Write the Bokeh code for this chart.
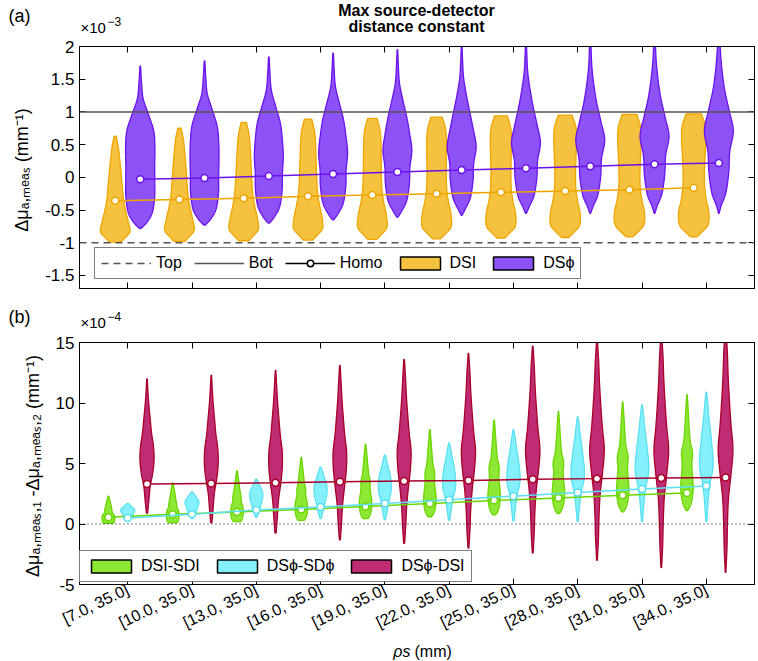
import numpy as np
from bokeh.plotting import figure
from bokeh.models import Span, Legend, LegendItem, LinearAxis, FixedTicker, Range1d
from bokeh.core.properties import value
from bokeh.layouts import column
from bokeh.embed import file_html
from bokeh.resources import INLINE

FONT = "Liberation Sans"

# ---------------- data ----------------
rho_labels = ["[7.0, 35.0]", "[10.0, 35.0]", "[13.0, 35.0]", "[16.0, 35.0]", "[19.0, 35.0]",
              "[22.0, 35.0]", "[25.0, 35.0]", "[28.0, 35.0]", "[31.0, 35.0]", "[34.0, 35.0]"]

# panel (a), units of 1e-3 mm^-1
dsi_min = [-0.99, -0.98, -0.97, -0.96, -0.95, -0.94, -0.93, -0.92, -0.91, -0.91]
dsi_max = [0.63, 0.75, 0.84, 0.89, 0.90, 0.92, 0.94, 0.95, 0.96, 0.97]
dsi_homo = [-0.36, -0.34, -0.32, -0.29, -0.27, -0.25, -0.23, -0.21, -0.19, -0.16]
dsp_min = [-0.78, -0.73, -0.70, -0.65, -0.61, -0.58, -0.55, -0.55, -0.55, -0.55]
dsp_max = [1.70, 1.78, 1.84, 1.90, 1.95, 2.05, 2.15, 2.25, 2.4, 2.6]
dsp_homo = [-0.03, -0.01, 0.02, 0.05, 0.08, 0.11, 0.14, 0.17, 0.20, 0.22]
top_bound = -1.0
bot_bound = 1.0
ya_ticks = [-1.5, -1, -0.5, 0, 0.5, 1, 1.5, 2]

# panel (b), units of 1e-4 mm^-1
sdi_min = [0.05, 0.1, 0.2, 0.3, 0.45, 0.6, 0.75, 0.85, 1.0, 1.1]
sdi_max = [2.3, 3.4, 4.4, 5.5, 6.6, 7.8, 8.6, 9.3, 10.1, 10.7]
sdi_homo = [0.55, 0.8, 1.0, 1.2, 1.45, 1.7, 1.95, 2.15, 2.38, 2.57]
sdp_min = [0.2, 0.45, 0.55, 0.45, 0.35, 0.3, 0.25, 0.2, 0.2, 0.2]
sdp_max = [1.7, 2.65, 3.7, 4.7, 5.7, 6.7, 7.8, 8.85, 9.85, 10.9]
sdp_homo = [0.5, 0.8, 1.15, 1.4, 1.7, 2.0, 2.3, 2.6, 2.9, 3.15]
dd_min = [0.9, 0.1, -0.75, -1.3, -1.6, -2.0, -2.4, -3.0, -3.6, -4.0]
dd_max = [12.0, 12.3, 12.7, 13.1, 13.6, 14.1, 14.7, 15.3, 15.8, 16.3]
dd_homo = [3.3, 3.35, 3.4, 3.5, 3.55, 3.6, 3.7, 3.75, 3.8, 3.85]
yb_ticks = [-5, 0, 5, 10, 15]

# violin outline profiles: half-width (category units) at normalised heights
levels = [0, 0.04, 0.1, 0.2, 0.3, 0.4, 0.5, 0.6, 0.7, 0.8, 0.9, 1.0]
dsi_early = [0.09, 0.15, 0.23, 0.20, 0.16, 0.13, 0.115, 0.10, 0.085, 0.067, 0.048, 0.015]
dsi_late = [0.05, 0.13, 0.225, 0.235, 0.195, 0.17, 0.165, 0.172, 0.18, 0.19, 0.18, 0.12]
dsp_early = [0.015, 0.11, 0.19, 0.225, 0.225, 0.225, 0.228, 0.21, 0.13, 0.045, 0.02, 0.005]
dsp_late = [0.005, 0.04, 0.11, 0.155, 0.17, 0.225, 0.16, 0.09, 0.048, 0.023, 0.012, 0.004]
sdi_early = [0.07, 0.09, 0.095, 0.10, 0.09, 0.065, 0.055, 0.047, 0.038, 0.028, 0.017, 0.005]
sdi_late = [0.01, 0.05, 0.08, 0.097, 0.085, 0.075, 0.085, 0.05, 0.035, 0.025, 0.015, 0.004]
sdp_early = [0.01, 0.022, 0.04, 0.06, 0.07, 0.08, 0.095, 0.11, 0.1, 0.07, 0.04, 0.01]
sdp_late = [0.008, 0.012, 0.02, 0.035, 0.06, 0.1, 0.105, 0.085, 0.065, 0.042, 0.025, 0.005]
dd_early = [0.01, 0.018, 0.03, 0.05, 0.09, 0.11, 0.10, 0.07, 0.05, 0.03, 0.015, 0.004]
dd_late = [0.005, 0.012, 0.022, 0.03, 0.045, 0.085, 0.115, 0.085, 0.06, 0.04, 0.027, 0.005]
shape_mix = [0, 0.1, 0.25, 0.4, 0.55, 0.7, 0.8, 0.9, 0.95, 1.0]

# ---------------- styles ----------------
C_DSI_F, C_DSI_E = "#F4C23E", "#EDA500"
C_DSP_F, C_DSP_E = "#8C52F6", "#6A14EB"
C_SDI_F, C_SDI_E = "#8DE835", "#6CD400"
C_SDP_F, C_SDP_E = "#84F0FB", "#5ADFF3"
C_DD_F, C_DD_E = "#BE2D73", "#A8002A"
GRAY = "#555555"
W = 757
BL, BR = 79, 3

cats = np.arange(1, len(rho_labels) + 1)


def smooth(t, w, n=10):
    P = np.column_stack([t, w]).astype(float)
    P = np.vstack([2 * P[0] - P[1], P, 2 * P[-1] - P[-2]])
    out = []
    for i in range(1, len(P) - 2):
        p0, p1, p2, p3 = P[i - 1], P[i], P[i + 1], P[i + 2]
        for s in np.linspace(0, 1, n, endpoint=False):
            s2, s3 = s * s, s * s * s
            pt = 0.5 * ((2 * p1) + (-p0 + p2) * s + (2 * p0 - 5 * p1 + 4 * p2 - p3) * s2
                        + (-p0 + 3 * p1 - 3 * p2 + p3) * s3)
            out.append(pt)
    out.append(P[-2])
    out = np.array(out)
    return np.clip(out[:, 0], 0, 1), np.clip(out[:, 1], 0.002, None)


def violins(centers, lo, hi, early, late):
    xs_all, ys_all = [], []
    for c, a, b, m in zip(centers, lo, hi, shape_mix):
        w = (1 - m) * np.array(early) + m * np.array(late)
        t, hw = smooth(levels, w)
        y = a + t * (b - a)
        xs_all.append(list(np.concatenate([c + hw, (c - hw)[::-1]])))
        ys_all.append(list(np.concatenate([y, y[::-1]])))
    return xs_all, ys_all


def hide_labels(ax):
    ax.major_label_text_font_size = "0px"
    ax.major_label_text_color = None
    ax.major_label_standoff = 0


def style_fig(p, yticks):
    p.grid.visible = False
    p.outline_line_color = "black"
    p.outline_line_width = 1
    p.background_fill_color = "white"
    p.border_fill_color = "white"
    for ax in (p.below[0], p.left[0]):
        ax.axis_line_color = "black"
        ax.major_tick_line_color = "black"
        ax.major_tick_in = 6
        ax.major_tick_out = 0
        ax.minor_tick_line_color = None
        ax.major_label_text_font = FONT
        ax.major_label_text_font_size = "17px"
        ax.major_label_text_color = "black"
        ax.axis_label_text_font = FONT
        ax.axis_label_text_font_style = "normal"
        ax.axis_label_text_font_size = "18px"
        ax.axis_label_text_color = "black"
    p.below[0].ticker = FixedTicker(ticks=list(cats))
    p.left[0].ticker = FixedTicker(ticks=yticks)
    p.left[0].major_label_overrides = {float(v): "{:g}".format(v) for v in yticks}
    p.left[0].axis_label_standoff = 10
    for side, tk in (("above", list(cats)), ("right", yticks)):
        ax = LinearAxis(ticker=FixedTicker(ticks=tk), major_tick_in=6, major_tick_out=0,
                        minor_tick_line_color=None, axis_line_color="black",
                        major_tick_line_color="black")
        hide_labels(ax)
        p.add_layout(ax, side)


def text_strip(height, items):
    """A strip without axes whose frame is the whole canvas, for free-standing texts."""
    s = figure(width=W, height=height, x_range=Range1d(0, W), y_range=Range1d(height, 0),
               x_axis_type=None, y_axis_type=None, output_backend="svg", toolbar_location=None,
               min_border_left=0, min_border_right=0, min_border_top=0, min_border_bottom=0,
               outline_line_color=None, background_fill_color="white", border_fill_color="white",
               frame_align=False)
    s.grid.visible = False
    for (x, y, txt, size, style, align) in items:
        s.text(x=[x], y=[y], text=[txt], text_font=value(FONT), text_font_size=size,
               text_font_style=style, text_align=align, text_baseline="middle", text_color="black")
    return s


def style_legend(lg):
    lg.glyph_width = 50
    lg.glyph_height = 16
    lg.label_height = 18
    lg.label_standoff = 5
    lg.spacing = 12
    lg.padding = 6
    lg.margin = 0
    lg.border_line_color = "black"
    lg.border_line_width = 1
    lg.background_fill_alpha = 1
    lg.label_text_font = FONT
    lg.label_text_font_size = "16px"
    lg.label_text_color = "black"


# ---------------- header (a) ----------------
head_a = text_strip(36, [
    (8, 15, "(a)", "18px", "normal", "left"),
    (416, 10, "Max source-detector", "16px", "bold", "center"),
    (416, 26, "distance constant", "16px", "bold", "center"),
    (80, 27, "×10", "15px", "normal", "left"),
    (107, 21, "−3", "12px", "normal", "left"),
])

# ---------------- panel (a) ----------------
p1 = figure(width=W, height=260, x_range=Range1d(0.25, 10.75), y_range=Range1d(-1.7, 2.0),
            output_backend="svg", toolbar_location=None, min_border_left=BL, min_border_right=BR,
            min_border_top=10, min_border_bottom=8)
style_fig(p1, ya_ticks)
hide_labels(p1.below[0])
p1.left[0].axis_label = "Δμₐ,ₘₑₐₛ  (mm⁻¹)"

x_dsi = cats - 0.195
x_dsp = cats + 0.195
xs, ys = violins(x_dsi, dsi_min, dsi_max, dsi_early, dsi_late)
p1.patches(xs, ys, fill_color=C_DSI_F, line_color=C_DSI_E, line_width=1.3)
xs, ys = violins(x_dsp, dsp_min, dsp_max, dsp_early, dsp_late)
p1.patches(xs, ys, fill_color=C_DSP_F, line_color=C_DSP_E, line_width=1.3)

p1.add_layout(Span(location=bot_bound, dimension="width", line_color=GRAY, line_width=1.5))
p1.add_layout(Span(location=top_bound, dimension="width", line_color=GRAY, line_width=1.5,
                   line_dash="7 5"))

for xx, hh, col in ((x_dsi, dsi_homo, C_DSI_E), (x_dsp, dsp_homo, C_DSP_E)):
    p1.line(xx, hh, line_color=col, line_width=1.5)
    p1.scatter(xx, hh, marker="circle", size=7, fill_color="white", line_color=col, line_width=1.5)

nan = [float("nan")]
l_top = p1.line(nan, nan, line_color=GRAY, line_width=1.5, line_dash="7 5")
l_bot = p1.line(nan, nan, line_color=GRAY, line_width=1.5)
l_hl = p1.line(nan, nan, line_color="black", line_width=1.5)
l_hm = p1.scatter(nan, nan, marker="circle", size=7, fill_color="white", line_color="black", line_width=1.5)
q_dsi = p1.quad(left=nan, right=nan, top=nan, bottom=nan, fill_color=C_DSI_F, line_color="black", line_width=1.5)
q_dsp = p1.quad(left=nan, right=nan, top=nan, bottom=nan, fill_color=C_DSP_F, line_color="black", line_width=1.5)

leg1 = Legend(items=[LegendItem(label="Top", renderers=[l_top]),
                     LegendItem(label="Bot", renderers=[l_bot]),
                     LegendItem(label="Homo", renderers=[l_hl, l_hm]),
                     LegendItem(label="DSI", renderers=[q_dsi]),
                     LegendItem(label="DSϕ", renderers=[q_dsp])],
              orientation="horizontal", location=(15, 9))
style_legend(leg1)
p1.add_layout(leg1)

# ---------------- header (b) ----------------
head_b = text_strip(34, [
    (8, 20, "(b)", "18px", "normal", "left"),
    (80, 26, "×10", "15px", "normal", "left"),
    (107, 20, "−4", "12px", "normal", "left"),
])

# ---------------- panel (b) ----------------
p2 = figure(width=W, height=312, x_range=Range1d(0.25, 10.75), y_range=Range1d(-5, 15),
            output_backend="svg", toolbar_location=None, min_border_left=BL, min_border_right=BR,
            min_border_top=12, min_border_bottom=58)
style_fig(p2, yb_ticks)
p2.below[0].major_label_overrides = {int(c): lab for c, lab in zip(cats, rho_labels)}
p2.below[0].major_label_orientation = 0.45
p2.below[0].major_label_standoff = 4
p2.below[0].major_label_text_font_size = "16px"
p2.left[0].axis_label = "Δμₐ,ₘₑₐₛ,₁ -Δμₐ,ₘₑₐₛ,₂  (mm⁻¹)"

x_sdi = cats - 0.3
x_sdp = cats + 0.0
x_dd = cats + 0.3
for xx, lo, hi, e, l, fc, ec in ((x_sdi, sdi_min, sdi_max, sdi_early, sdi_late, C_SDI_F, C_SDI_E),
                                 (x_sdp, sdp_min, sdp_max, sdp_early, sdp_late, C_SDP_F, C_SDP_E),
                                 (x_dd, dd_min, dd_max, dd_early, dd_late, C_DD_F, C_DD_E)):
    xs, ys = violins(xx, lo, hi, e, l)
    p2.patches(xs, ys, fill_color=fc, line_color=ec, line_width=1.3)

p2.add_layout(Span(location=0, dimension="width", line_color="black", line_width=1.2, line_dash="1 3"))

for xx, hh, col in ((x_sdi, sdi_homo, C_SDI_E), (x_sdp, sdp_homo, C_SDP_E), (x_dd, dd_homo, C_DD_E)):
    p2.line(xx, hh, line_color=col, line_width=1.5)
    p2.scatter(xx, hh, marker="circle", size=7, fill_color="white", line_color=col, line_width=1.5)

q1 = p2.quad(left=nan, right=nan, top=nan, bottom=nan, fill_color=C_SDI_F, line_color="black", line_width=1.5)
q2 = p2.quad(left=nan, right=nan, top=nan, bottom=nan, fill_color=C_SDP_F, line_color="black", line_width=1.5)
q3 = p2.quad(left=nan, right=nan, top=nan, bottom=nan, fill_color=C_DD_F, line_color="black", line_width=1.5)
leg2 = Legend(items=[LegendItem(label="DSI-SDI", renderers=[q1]),
                     LegendItem(label="DSϕ-SDϕ", renderers=[q2]),
                     LegendItem(label="DSϕ-DSI", renderers=[q3])],
              orientation="horizontal", location=(0, 2))
style_legend(leg2)
p2.add_layout(leg2)

# ---------------- footer ----------------
foot = text_strip(18, [
    (410, 9, "ρs", "16px", "italic", "right"),
    (414, 9, "(mm)", "16px", "normal", "left"),
])

layout = column(head_a, p1, head_b, p2, foot)
open("out.html", "w").write(file_html(layout, INLINE))
